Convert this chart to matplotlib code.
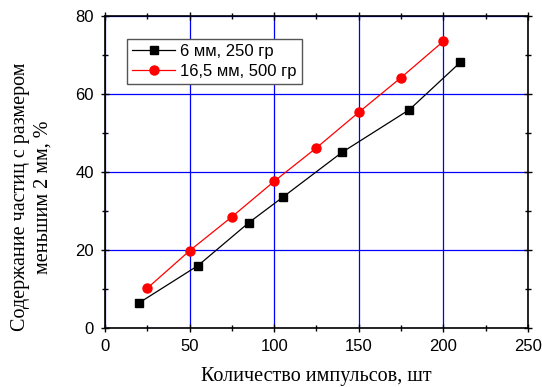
import matplotlib.pyplot as plt
from matplotlib.ticker import MultipleLocator

# data
x_6mm = [20, 55, 85, 105, 140, 180, 210]
y_6mm = [6.4, 16.0, 27.0, 33.5, 45.0, 56.0, 68.1]
x_16mm = [25, 50, 75, 100, 125, 150, 175, 200]
y_16mm = [10.2, 19.8, 28.5, 37.6, 46.2, 55.3, 64.2, 73.5]
labels = ['6 мм, 250 гр', '16,5 мм, 500 гр']

fig = plt.figure(figsize=(5.42, 3.87), dpi=100)
ax = fig.add_axes([0.1937, 0.1525, 0.7803, 0.8062])

ax.plot(x_6mm, y_6mm, color='black', lw=0.9, marker='s', markersize=5.5, label=labels[0])
ax.plot(x_16mm, y_16mm, color='red', lw=0.9, marker='o', markersize=6.5, label=labels[1])

ax.set_xlim(0, 250)
ax.set_ylim(0, 80)
ax.xaxis.set_major_locator(MultipleLocator(50))
ax.xaxis.set_minor_locator(MultipleLocator(25))
ax.yaxis.set_major_locator(MultipleLocator(20))
ax.yaxis.set_minor_locator(MultipleLocator(10))
ax.grid(True, which='major', color='blue', lw=0.9)
ax.set_axisbelow(True)

for s in ax.spines.values():
    s.set_linewidth(1.2)
ax.tick_params(which='major', direction='inout', length=6, width=1, top=True, right=True, pad=5)
ax.tick_params(which='minor', direction='inout', length=4, width=1, top=True, right=True)
for lab in ax.get_xticklabels() + ax.get_yticklabels():
    lab.set_family('Liberation Sans')
    lab.set_fontsize(12)

ax.set_xlabel('Количество импульсов, шт', family='Liberation Serif', fontsize=14.5, labelpad=9.5)
ax.set_ylabel('Содержание частиц с размером\nменьшим 2 мм, %', family='Liberation Serif',
              fontsize=14.5, linespacing=1.2)
ax.yaxis.set_label_coords(-0.125, 0.42)

leg = ax.legend(loc='upper left', bbox_to_anchor=(0.052, 0.926), borderaxespad=0,
                prop={'family': 'Liberation Sans', 'size': 12},
                fancybox=False, edgecolor='#555555', framealpha=1, handlelength=2.6,
                borderpad=0.3, labelspacing=0.3, handletextpad=0.3)
leg.get_frame().set_linewidth(1.0)

fig.savefig('out.png', dpi=100)
